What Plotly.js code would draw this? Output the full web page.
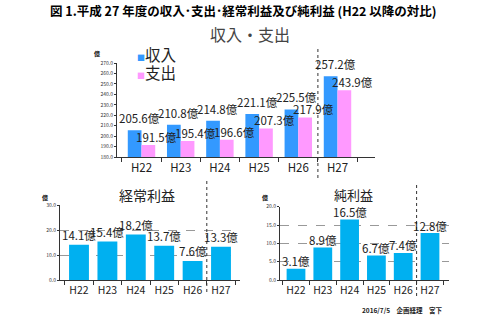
<!DOCTYPE html>
<html><head><meta charset="utf-8">
<script src="https://cdn.plot.ly/plotly-3.0.1.min.js"></script>
<style>html,body{margin:0;padding:0;background:#fff}</style>
</head><body>
<div id="chart" style="width:486px;height:325px"></div>
<script>
const years = ['H22','H23','H24','H25','H26','H27'];
const revenue = [205.6, 210.8, 214.8, 221.1, 225.5, 257.2];
const expense = [191.5, 195.4, 196.6, 207.3, 217.9, 243.9];
const ordinaryProfit = [14.1, 15.4, 18.2, 13.7, 7.6, 13.3];
const netProfit = [3.1, 8.9, 16.5, 6.7, 7.4, 12.8];
const unit = '億';

const F = '"Noto Sans CJK JP", "Noto Sans", sans-serif';
const W = 486, H = 325;
const px = v => v / W;
const py = v => 1 - v / H;
const C_REV = '#3399FF', C_EXP = '#FF99FF', C_PROFIT = '#00B0F0';

const traces = [
  {type:'bar', x:years, y:revenue, name:'収入', marker:{color:C_REV}, xaxis:'x', yaxis:'y'},
  {type:'bar', x:years, y:expense, name:'支出', marker:{color:C_EXP}, xaxis:'x', yaxis:'y'},
  {type:'bar', x:years, y:ordinaryProfit, name:'経常利益', marker:{color:C_PROFIT}, xaxis:'x2', yaxis:'y2'},
  {type:'bar', x:years, y:netProfit, name:'純利益', marker:{color:C_PROFIT}, xaxis:'x3', yaxis:'y3'}
];

const lblFont = {family:F, size:11.5, color:'#222'};
const annotations = [];
function addLabels(xref, yref, vals, xshift, yshift){
  vals.forEach((v,i)=>{
    annotations.push({xref:xref, yref:yref, x:i, y:v, text:v.toFixed(1)+unit, showarrow:false,
      xanchor:'center', yanchor:'bottom', xshift:xshift, yshift:yshift, font:lblFont});
  });
}
addLabels('x','y', revenue, -2, 2);
addLabels('x','y', expense, 15, -2);
addLabels('x2','y2', ordinaryProfit, 0, 0);
addLabels('x3','y3', netProfit, 0, -2.5);

function legendItem(yPix, color, name){
  annotations.push({xref:'paper', yref:'paper', x:px(136), y:py(yPix), xanchor:'left', yanchor:'middle', showarrow:false,
    height:18, borderpad:0,
    text:'<span style="font-size:8px;color:'+color+'">■</span>'+name, font:{family:F, size:15.5, color:'#222'}});
}
legendItem(54, C_REV, traces[0].name);
legendItem(72, C_EXP, traces[1].name);

annotations.push(
  {xref:'paper', yref:'paper', x:px(243), y:py(10), text:'<b>図 1.平成 27 年度の収入･支出･経常利益及び純利益 (H22 以降の対比)</b>', showarrow:false, xanchor:'center', yanchor:'middle', font:{family:F, size:12.5, color:'#000'}},
  {xref:'paper', yref:'paper', x:px(250), y:py(34), text:'収入・支出', showarrow:false, xanchor:'center', yanchor:'middle', font:{family:F, size:16, color:'#444'}},
  {xref:'paper', yref:'paper', x:px(147), y:py(195), text:'経常利益', showarrow:false, xanchor:'center', yanchor:'middle', font:{family:F, size:14, color:'#222'}},
  {xref:'paper', yref:'paper', x:px(353), y:py(194), text:'純利益', showarrow:false, xanchor:'center', yanchor:'middle', font:{family:F, size:13, color:'#222'}},
  {xref:'paper', yref:'paper', x:px(97), y:py(53), text:'<b>億</b>', showarrow:false, xanchor:'center', yanchor:'middle', font:{family:F, size:6, color:'#000'}},
  {xref:'paper', yref:'paper', x:px(45), y:py(197), text:'<b>億</b>', showarrow:false, xanchor:'center', yanchor:'middle', font:{family:F, size:6, color:'#000'}},
  {xref:'paper', yref:'paper', x:px(265), y:py(197), text:'<b>億</b>', showarrow:false, xanchor:'center', yanchor:'middle', font:{family:F, size:6, color:'#000'}},
  {xref:'paper', yref:'paper', x:px(445), y:py(310), text:'<b>2016/7/5　企画経理　宮下</b>', showarrow:false, xanchor:'right', yanchor:'middle', font:{family:F, size:6.5, color:'#222'}}
);

const xCommon = {type:'category', showline:true, linecolor:'#333', linewidth:1, ticks:'outside', tickson:'boundaries',
  ticklen:4, tickcolor:'#333', showgrid:false, zeroline:false, tickangle:0, tickfont:{family:F, size:11.5, color:'#222'}, fixedrange:true};
const yCommon = {showline:true, linecolor:'#333', linewidth:1, ticks:'outside', ticklen:2, tickcolor:'#333',
  tickformat:'.1f', tickfont:{family:F, size:5, color:'#333'}, zeroline:false, fixedrange:true};

const layout = {
  width:W, height:H, margin:{l:0,r:0,t:0,b:0}, paper_bgcolor:'#fff', plot_bgcolor:'rgba(0,0,0,0)',
  barmode:'group', bargap:0.3, bargroupgap:0,
  showlegend:false,
  xaxis:Object.assign({}, xCommon, {domain:[px(117), px(375)], anchor:'y'}),
  yaxis:Object.assign({}, yCommon, {domain:[py(157), py(63)], range:[180,270], dtick:10, anchor:'x', showgrid:false}),
  xaxis2:Object.assign({}, xCommon, {domain:[px(60), px(240)], anchor:'y2', tickfont:{family:F, size:10.5, color:'#222'}}),
  yaxis2:Object.assign({}, yCommon, {domain:[py(280), py(205)], range:[0,30], dtick:10, anchor:'x2',
    showgrid:true, gridcolor:'#999', griddash:'dash', gridwidth:1}),
  xaxis3:Object.assign({}, xCommon, {domain:[px(280), px(449)], anchor:'y3', tickfont:{family:F, size:10.5, color:'#222'}}),
  yaxis3:Object.assign({}, yCommon, {domain:[py(280), py(206.7)], range:[0,20], dtick:5, anchor:'x3',
    showgrid:true, gridcolor:'#999', griddash:'dash', gridwidth:1}),
  annotations:annotations,
  shapes:[
    {type:'line', xref:'x', yref:'paper', x0:4.5, x1:4.5, y0:py(178), y1:py(48), line:{color:'#333', width:1, dash:'dot'}},
    {type:'line', xref:'x2', yref:'paper', x0:4.5, x1:4.5, y0:py(292), y1:py(178), line:{color:'#333', width:1, dash:'dot'}},
    {type:'line', xref:'x3', yref:'paper', x0:4.5, x1:4.5, y0:py(296), y1:py(185), line:{color:'#333', width:1, dash:'dot'}}
  ]
};

Plotly.newPlot('chart', traces, layout, {displayModeBar:false, staticPlot:true});
</script>
</body></html>
